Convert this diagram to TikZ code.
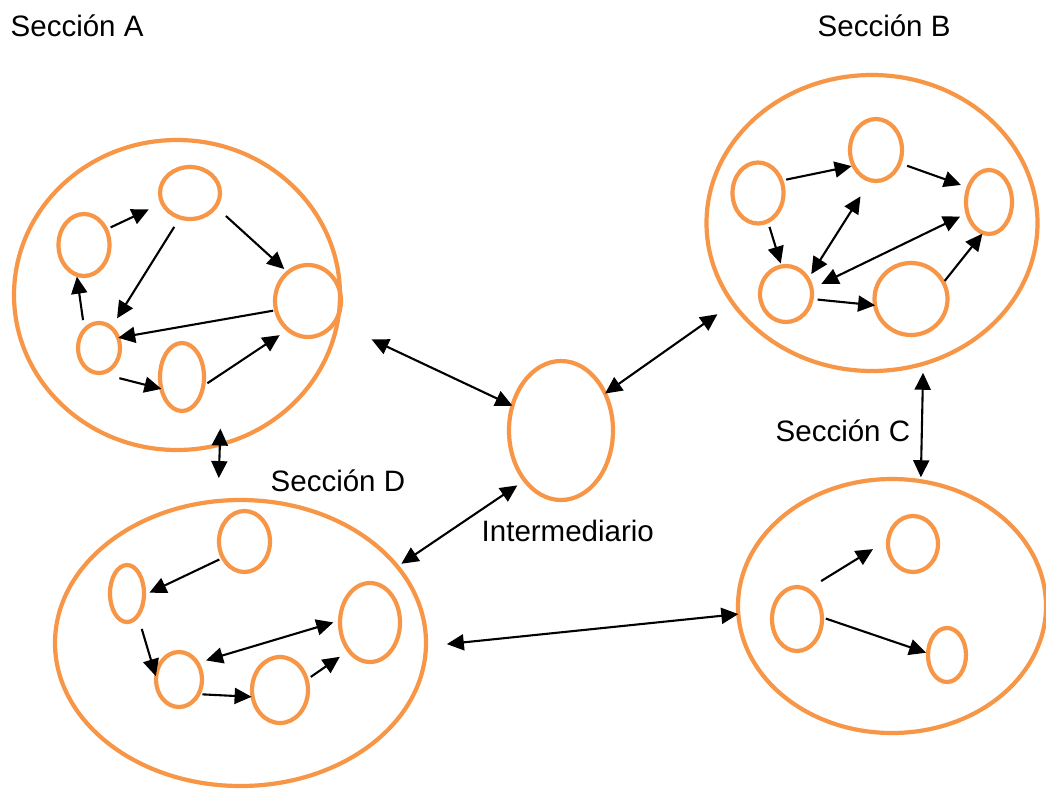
\documentclass[tikz,border=0pt]{standalone}
\usepackage{fontspec}
\setmainfont{Liberation Sans}
\usetikzlibrary{shapes.geometric,arrows.meta}
\definecolor{secorange}{RGB}{247,150,70}
\tikzset{
  ring/.style={ellipse, draw=secorange, line width=4.2pt, inner sep=0pt, outer sep=0pt},
  tipshape/.tip={Triangle[length=17pt,width=16pt]},
  arr/.style={-tipshape, line width=2.1pt, black},
  darr/.style={tipshape-tipshape, line width=2.1pt, black},
  lbl/.style={anchor=base west, inner sep=0pt, font=\fontsize{29.5}{35}\selectfont}
}
\begin{document}
\begin{tikzpicture}[x=1pt,y=-1pt]
\useasboundingbox[fill=white] (0,0) rectangle (1046,790);
% big sections
\node[ring, minimum width=326pt, minimum height=310pt] (A) at (177,295) {};
\node[ring, minimum width=331pt, minimum height=296pt] (B) at (872,223) {};
\node[ring, minimum width=308pt, minimum height=254pt] (C) at (892,606) {};
\node[ring, minimum width=371pt, minimum height=286pt] (D) at (240.5,643) {};
\node[ring, minimum width=104pt, minimum height=139pt] (I) at (561,430.5) {};
% section A
\node[ring, minimum width=51pt, minimum height=62pt] (a1) at (84,245) {};
\node[ring, minimum width=60pt, minimum height=52pt] (a2) at (190,193) {};
\node[ring, minimum width=66pt, minimum height=72pt] (a3) at (308,301) {};
\node[ring, minimum width=42pt, minimum height=50pt] (a4) at (99,348) {};
\node[ring, minimum width=44pt, minimum height=68pt] (a5) at (182,377) {};
% section B
\node[ring, minimum width=51pt, minimum height=61pt] (b1) at (758,193) {};
\node[ring, minimum width=52pt, minimum height=62pt] (b2) at (876,150) {};
\node[ring, minimum width=46pt, minimum height=64pt] (b3) at (989,202) {};
\node[ring, minimum width=52pt, minimum height=56pt] (b4) at (786,294) {};
\node[ring, minimum width=73pt, minimum height=72pt] (b5) at (911,299) {};
% section C
\node[ring, minimum width=50pt, minimum height=64pt] (c1) at (797,619) {};
\node[ring, minimum width=50pt, minimum height=56pt] (c2) at (913,544) {};
\node[ring, minimum width=38pt, minimum height=54pt] (c3) at (947,655) {};
% section D
\node[ring, minimum width=51pt, minimum height=61pt] (d1) at (244.5,541.5) {};
\node[ring, minimum width=34pt, minimum height=57pt] (d2) at (127,593.5) {};
\node[ring, minimum width=60pt, minimum height=79pt] (d3) at (370,622.5) {};
\node[ring, minimum width=46pt, minimum height=55pt] (d4) at (179,679.5) {};
\node[ring, minimum width=56pt, minimum height=66pt] (d5) at (280,690) {};
% labels
\node[lbl] (lA) at (10.5,36) {Sección A};
\node[lbl] (lB) at (817.5,36) {Sección B};
\node[lbl] (lC) at (775.5,441) {Sección C};
\node[lbl] (lD) at (270.5,491.5) {Sección D};
\node[lbl] (lI) at (481.5,541.5) {Intermediario};
% arrows in A
\draw[arr, shorten <=5pt, shorten >=15pt] (a1.35) -- (a2.200);
\draw[arr, shorten <=14pt, shorten >=5pt] (a2.-28) -- (a3.125);
\draw[arr, shorten <=11pt, shorten >=11pt] (a2.-112) -- (a4.59);
\draw[arr, shorten <=3pt] (a3.-164) -- (a4.28);
\draw[arr, shorten <=10pt, shorten >=2pt] (a4.129) -- (a1.-104);
\draw[arr, shorten <=21pt] (a4.-90) -- (a5.-150);
\draw[arr, shorten <=5pt, shorten >=10pt] (a5.-23) -- (a3.-125);
% arrows in B
\draw[arr, shorten <=5pt, shorten >=2pt] (b1.28) -- (b2.-145);
\draw[arr, shorten <=8pt, shorten >=8pt] (b2.-29) -- (b3.145);
\draw[arr, shorten <=6pt, shorten >=3pt] (b1.-71) -- (b4.99);
\draw[darr, shorten <=6pt, shorten >=19pt] (b4.34) -- (b2.-100);
\draw[darr, shorten <=11pt, shorten >=8pt] (b4.12) -- (b3.-153);
\draw[arr, shorten <=6pt] (b4.-11) -- (b5.-170);
\draw[arr, shorten <=2pt, shorten >=1pt] (b5.27) -- (b3.-101);
% arrows in C
\draw[arr, shorten <=16.5pt, shorten >=18pt] (c1.71) -- (c2.170);
\draw[arr, shorten <=4pt, shorten >=2pt] (c1.4) -- (c3.175);
% arrows in D
\draw[arr, shorten <=4pt, shorten >=6pt] (d1.-143) -- (d2.-6);
\draw[arr, shorten <=14pt, shorten >=1pt] (d2.-64) -- (d4.174);
\draw[darr, shorten <=9pt, shorten >=7pt] (d4.42) -- (d3.176);
\draw[arr, shorten <=4pt, shorten >=1pt] (d4.-37) -- (d5.-166);
\draw[arr, shorten <=5pt, shorten >=11pt] (d5.21) -- (d3.-127);
% arrows between sections
\draw[darr, shorten <=38pt] (A.-10) -- (I.153);
\draw[darr, shorten >=19pt] (I.40) -- (B.-150);
\draw[darr, shorten <=5pt, shorten >=9pt] (D.26) -- (I.-126);
\draw[darr, shorten <=-16pt, shorten >=23pt] (A.-74.7) -- (D.99);
\draw[darr, shorten <=21pt] (D.-1) -- (C.-177);
\draw[darr, shorten <=9pt, shorten >=4pt] (B.-70) -- (C.77);
\end{tikzpicture}
\end{document}
